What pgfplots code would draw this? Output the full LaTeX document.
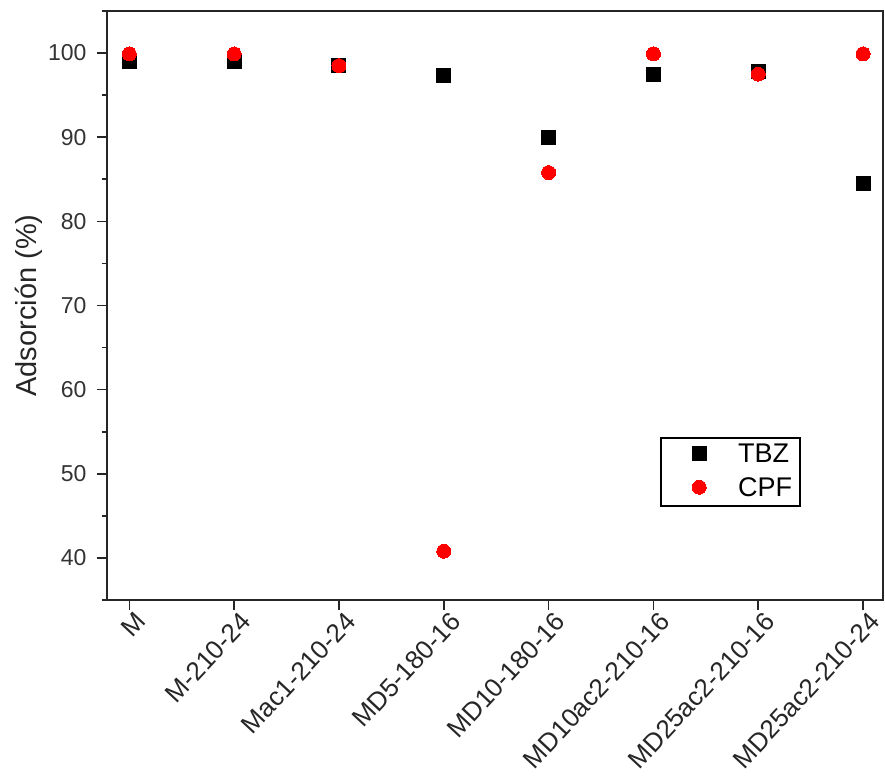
\documentclass[border=0pt]{standalone}
\usepackage{fontspec}
\setmainfont{Liberation Sans}
\usepackage{pgfplots}
\pgfplotsset{compat=1.18}
\begin{document}
\begin{tikzpicture}
\path[use as bounding box] (-107pt,-180pt) rectangle (778pt,600pt);
\begin{axis}[
  at={(0pt,0pt)}, anchor=south west,
  scale only axis, width=776pt, height=589pt,
  xmin=-0.213, xmax=7.19, ymin=35, ymax=105,
  axis line style={line width=1.6pt, black!85},
  xtick pos=left, ytick pos=left,
  tick align=outside,
  major tick length=10pt, minor tick length=5pt,
  every tick/.style={line width=1.6pt, black!85},
  xtick={0,1,2,3,4,5,6,7},
  xticklabels={M,M-210-24,Mac1-210-24,MD5-180-16,MD10-180-16,MD10ac2-210-16,MD25ac2-210-16,MD25ac2-210-24},
  xticklabel style={rotate=47, anchor=north east, font=\fontsize{26}{30}\selectfont, text=black!85, inner sep=1pt, xshift=4pt, yshift=-3pt},
  ytick={40,50,60,70,80,90,100},
  minor ytick={35,45,55,65,75,85,95,105},
  yticklabel style={font=\fontsize{23}{27}\selectfont, text=black!80, xshift=-7pt},
  /pgf/number format/assume math mode=true,
  ylabel={Adsorción (\%)},
  ylabel style={font=\fontsize{29}{33}\selectfont, text=black!85, at={(-78pt,0.5)}, anchor=center, rotate=0},
  clip=false,
  legend style={at={(0.8943,0.158)}, anchor=south east, draw=black, line width=1.5pt,
    font=\fontsize{27}{30}\selectfont, inner xsep=5pt, inner ysep=1pt, row sep=2pt,
    nodes={inner sep=3pt, text height=20pt, text depth=6pt}},
  legend cell align=left,
  legend image code/.code={\path[draw=none,fill=none] (0pt,2pt) -- (69pt,2pt); \draw[#1, mark repeat=2, mark phase=2] plot coordinates {(0pt,2pt)(33pt,2pt)(69pt,2pt)};},
]
\addplot[only marks, mark=square*, mark size=7pt, black, mark options={line width=0pt}] coordinates {
(0,99.0) (1,99.0) (2,98.5) (3,97.3) (4,90.0) (5,97.5) (6,97.8) (7,84.5)};
\addlegendentry{TBZ}
\addplot[only marks, mark=*, mark size=7pt, red, mark options={line width=0pt}] coordinates {
(0,99.9) (1,99.9) (2,98.5) (3,40.8) (4,85.8) (5,99.9) (6,97.5) (7,99.9)};
\addlegendentry{CPF}
\end{axis}
\end{tikzpicture}
\end{document}
